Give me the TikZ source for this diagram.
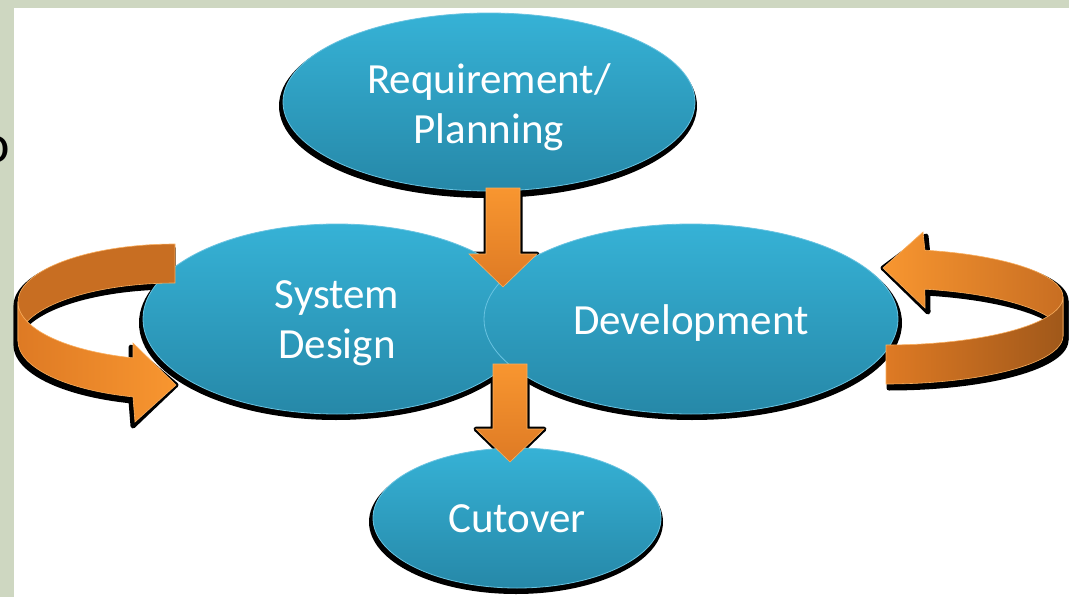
\documentclass[tikz,border=0pt]{standalone}
\usepackage{fontspec}
\setmainfont{Carlito}
\usetikzlibrary{shapes.geometric,calc}
\definecolor{bgstrip}{RGB}{206,215,193}
\definecolor{eltop}{RGB}{54,178,214}
\definecolor{elbot}{RGB}{38,136,168}
\definecolor{elrim}{RGB}{105,195,225}
\definecolor{orl}{RGB}{248,150,48}
\definecolor{orm}{RGB}{222,122,36}
\definecolor{orb}{RGB}{200,110,34}
\definecolor{ord}{RGB}{160,88,26}
\definecolor{oredge}{RGB}{250,175,95}

% left loop: cx=175, rx=157, ry=58, top edge cy=302, bottom edge cy=341
\newcommand\LoopLBack[1]{\path[#1]
  plot[domain=90:180,samples=40] ({175+157*cos(\x)},{302-58*sin(\x)})
  -- plot[domain=180:90,samples=40] ({175+157*cos(\x)},{341-58*sin(\x)}) -- cycle;}
\newcommand\LoopLFront[1]{\path[#1]
  plot[domain=180:254.5,samples=40] ({175+157*cos(\x)},{302-58*sin(\x)})
  -- (133,343) -- (tipL) -- (135,422) -- (133,397)
  -- plot[domain=254.5:180,samples=40] ({175+157*cos(\x)},{341-58*sin(\x)}) -- cycle;}
% right loop: cx=886, rx=177, ry=48, top edge cy=297, bottom edge cy=336
\newcommand\LoopRBack[1]{\path[#1]
  plot[domain=77.3:0,samples=40] ({886+177*cos(\x)},{297-48*sin(\x)})
  -- plot[domain=0:77.3,samples=40] ({886+177*cos(\x)},{336-48*sin(\x)})
  -- (925,308) -- (tipR) -- (923,232) -- cycle;}
\newcommand\LoopRFront[1]{\path[#1]
  plot[domain=270:360,samples=40] ({886+177*cos(\x)},{297-48*sin(\x)})
  -- plot[domain=360:270,samples=40] ({886+177*cos(\x)},{336-48*sin(\x)}) -- cycle;}
\newcommand\DownArr[3]{\path[#1] ($(#2)+(-17,0)$) -- ($(#3)+(-17,-33)$) -- ($(#3)+(-34,-33)$)
  -- (#3) -- ($(#3)+(34,-33)$) -- ($(#3)+(17,-33)$) -- ($(#2)+(17,0)$) -- cycle;}

\begin{document}
\begin{tikzpicture}[x=1pt,y=-1pt,
  phase/.style={ellipse, top color=eltop, bottom color=elbot, draw=elrim, line width=0.8pt, inner sep=0pt},
  phasetext/.style={text=white, align=center, inner sep=0pt, font=\fontsize{43}{50}\selectfont},
  shadowfill/.style={fill=black, draw=black, line width=5pt, line join=round},
  arrowfill/.style={top color=orl, bottom color=orm, draw=oredge, line width=0.6pt, line join=miter},
]
\useasboundingbox (0,0) rectangle (1069,597);
% background
\fill[bgstrip] (0,0) rectangle (1069,597);
\fill[white] (14,8) rectangle (1069,597);
\node[text=black, inner sep=0pt, font=\fontsize{54}{54}\selectfont] (otext) at (-4,150) {o};

% centres and connector ends
\coordinate (creq) at (489,102);
\coordinate (csd) at (337,319);
\coordinate (cdev) at (691,319);
\coordinate (ccut) at (517,518);
\coordinate (a1s) at (503,188);
\coordinate (a1e) at (503,287);
\coordinate (a2s) at (510,364);
\coordinate (a2e) at (510,462);
\coordinate (tipL) at (176,385);
\coordinate (tipR) at (883,268);

% shadows
\fill[black] ($(creq)+(-1,4)$) ellipse [x radius=209pt, y radius=92pt];
\fill[black] ($(csd)+(-1,4)$) ellipse [x radius=197pt, y radius=97pt];
\fill[black] ($(cdev)+(1,4)$) ellipse [x radius=210pt, y radius=97pt];
\fill[black] ($(ccut)+(-1,4)$) ellipse [x radius=147pt, y radius=72pt];
\begin{scope}[shift={(-2,4)}]
  \LoopLBack{shadowfill}
  \LoopLFront{shadowfill}
\end{scope}
\begin{scope}[shift={(3,4)}]
  \LoopRBack{shadowfill}
  \LoopRFront{shadowfill}
\end{scope}
\begin{scope}[shift={(-1,3)}]
  \DownArr{shadowfill}{a1s}{a1e}
  \DownArr{shadowfill}{a2s}{a2e}
\end{scope}

% phases
\node[phase, minimum width=388pt, minimum height=190pt] (sd) at (csd) {};
\node[phase, minimum width=414pt, minimum height=190pt] (dev) at (cdev) {};
\node[phase, minimum width=412pt, minimum height=178pt] (req) at (creq) {};
\node[phase, minimum width=288pt, minimum height=140pt] (cut) at (ccut) {};
\node[phasetext] (sdt) at ($(csd)+(0,4)$) {System\\Design};
\node[phasetext] (devt) at ($(cdev)+(0,4)$) {Development};
\node[phasetext] (reqt) at ($(creq)+(0,5)$) {Requirement/\\Planning};
\node[phasetext] (cutt) at ($(ccut)+(0,1)$) {Cutover};

% loops
\LoopLBack{fill=orb, draw=oredge, line width=0.6pt}
\LoopLFront{left color=orm, right color=orl, draw=oredge, line width=0.6pt}
\LoopRBack{left color=orl, right color=orb, draw=oredge, line width=0.6pt}
\LoopRFront{left color=orm, right color=ord, draw=oredge, line width=0.6pt}

% connectors
\DownArr{arrowfill}{a1s}{a1e}
\DownArr{arrowfill}{a2s}{a2e}
\end{tikzpicture}
\end{document}
